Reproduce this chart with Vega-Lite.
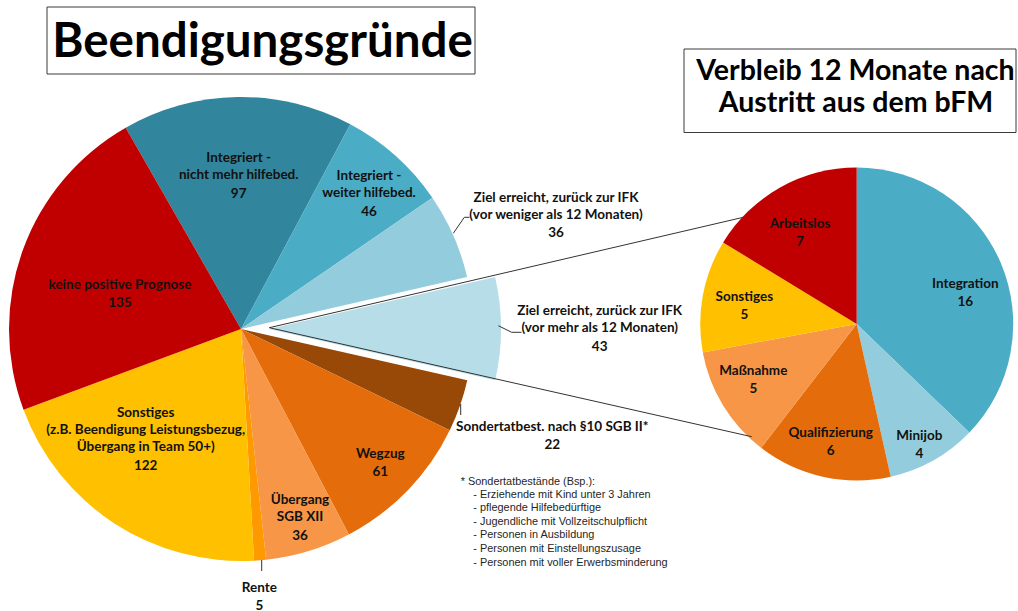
{
  "$schema": "https://vega.github.io/schema/vega-lite/v6.json",
  "width": 1018,
  "height": 611,
  "autosize": {"type": "none"},
  "padding": 0,
  "background": "#ffffff",
  "config": {"view": {"stroke": null}},
  "datasets": {
    "main": [
      {"key": "INT1", "name": "Integriert -\nnicht mehr hilfebed.", "value": 97, "ord": 1, "lx": 238.7, "ly": 184.5},
      {"key": "INT2", "name": "Integriert -\nweiter hilfebed.", "value": 46, "ord": 2, "lx": 369, "ly": 202.5},
      {"key": "Z36", "name": "Ziel erreicht, zurück zur IFK\n(vor weniger als 12 Monaten)", "value": 36, "ord": 3, "lx": 556, "ly": 224},
      {"key": "Z43", "name": "Ziel erreicht, zurück zur IFK\n(vor mehr als 12 Monaten)", "value": 43, "ord": 4, "lx": 599.7, "ly": 337.5},
      {"key": "SON", "name": "Sondertatbest. nach §10 SGB II*", "value": 22, "ord": 5, "lx": 552.3, "ly": 436},
      {"key": "WEG", "name": "Wegzug", "value": 61, "ord": 6, "lx": 380.3, "ly": 463.3},
      {"key": "UEB", "name": "Übergang\nSGB XII", "value": 36, "ord": 7, "lx": 300, "ly": 526.5},
      {"key": "REN", "name": "Rente", "value": 5, "ord": 8, "lx": 259.3, "ly": 596.5},
      {"key": "SONST", "name": "Sonstiges\n(z.B. Beendigung Leistungsbezug,\nÜbergang in Team 50+)", "value": 122, "ord": 9, "lx": 145.7, "ly": 456.5},
      {"key": "KPP", "name": "keine positive Prognose", "value": 135, "ord": 10, "lx": 120, "ly": 294.3}
    ],
    "sub": [
      {"key": "S_INT", "name": "Integration", "value": 16, "ord": 1, "lx": 965.3, "ly": 293.3},
      {"key": "S_MINI", "name": "Minijob", "value": 4, "ord": 2, "lx": 919.3, "ly": 445},
      {"key": "S_QUAL", "name": "Qualifizierung", "value": 6, "ord": 3, "lx": 830.7, "ly": 441.6},
      {"key": "S_MASS", "name": "Maßnahme", "value": 5, "ord": 4, "lx": 753.3, "ly": 380},
      {"key": "S_SONST", "name": "Sonstiges", "value": 5, "ord": 5, "lx": 744.3, "ly": 306},
      {"key": "S_ARB", "name": "Arbeitslos", "value": 7, "ord": 6, "lx": 800, "ly": 233.3}
    ],
    "boxes": [
      {"x": 47, "x2": 475, "y": 7, "y2": 74},
      {"x": 684, "x2": 1016, "y": 49, "y2": 132.5}
    ],
    "lines": [
      {"x": 269.3, "y": 327.7, "x2": 743.3, "y2": 217.3},
      {"x": 269.3, "y": 327.7, "x2": 751.7, "y2": 436.7},
      {"x": 453.3, "y": 233.3, "x2": 464.3, "y2": 217.3},
      {"x": 464.3, "y": 217.3, "x2": 469.5, "y2": 217.3},
      {"x": 498.3, "y": 325.7, "x2": 511.7, "y2": 332.3},
      {"x": 511.7, "y": 332.3, "x2": 521.5, "y2": 332.3},
      {"x": 460.7, "y": 404, "x2": 460.7, "y2": 415},
      {"x": 261.7, "y": 560, "x2": 261.7, "y2": 571}
    ],
    "footnote": [
      {"text": "* Sondertatbestände (Bsp.):", "x": 460.7, "y": 481.7},
      {"text": "- Erziehende mit Kind unter 3 Jahren", "x": 473.3, "y": 494.5},
      {"text": "- pflegende Hilfebedürftige", "x": 473.3, "y": 508.2},
      {"text": "- Jugendliche mit Vollzeitschulpflicht", "x": 473.3, "y": 521.7},
      {"text": "- Personen in Ausbildung", "x": 473.3, "y": 535.2},
      {"text": "- Personen mit Einstellungszusage", "x": 473.3, "y": 549.2},
      {"text": "- Personen mit voller Erwerbsminderung", "x": 473.3, "y": 562.6}
    ]
  },
  "resolve": {"scale": {"theta": "independent"}},
  "layer": [
    {
      "data": {"name": "boxes"},
      "mark": {"type": "rect", "fill": "#ffffff", "stroke": "#3a3a3a", "strokeWidth": 1},
      "encoding": {
        "x": {"field": "x", "type": "quantitative", "scale": {"domain": [0, 1018], "nice": false, "zero": false}, "axis": null},
        "x2": {"field": "x2"},
        "y": {"field": "y", "type": "quantitative", "scale": {"domain": [0, 611], "nice": false, "zero": false, "reverse": true}, "axis": null},
        "y2": {"field": "y2"}
      }
    },
    {
      "data": {"values": [{"text": "Beendigungsgründe", "x": 262.5, "y": 56.7}]},
      "mark": {"type": "text", "font": "Lato", "fontWeight": "bold", "fontSize": 47.5, "align": "center", "baseline": "alphabetic", "color": "#000000"},
      "encoding": {
        "x": {"field": "x", "type": "quantitative", "scale": {"domain": [0, 1018], "nice": false, "zero": false}, "axis": null},
        "y": {"field": "y", "type": "quantitative", "scale": {"domain": [0, 611], "nice": false, "zero": false, "reverse": true}, "axis": null},
        "text": {"field": "text"}
      }
    },
    {
      "data": {"values": [{"text": "Verbleib 12 Monate nach", "x": 855.5, "y": 80}, {"text": "Austritt aus dem bFM", "x": 856, "y": 111.5}]},
      "mark": {"type": "text", "font": "Lato", "fontWeight": "bold", "fontSize": 28.5, "align": "center", "baseline": "alphabetic", "color": "#000000"},
      "encoding": {
        "x": {"field": "x", "type": "quantitative", "scale": {"domain": [0, 1018], "nice": false, "zero": false}, "axis": null},
        "y": {"field": "y", "type": "quantitative", "scale": {"domain": [0, 611], "nice": false, "zero": false, "reverse": true}, "axis": null},
        "text": {"field": "text"}
      }
    },
    {
      "data": {"name": "main"},
      "transform": [{"stack": "value", "groupby": [], "sort": [{"field": "ord", "order": "ascending"}], "as": ["a0", "a1"]}],
      "layer": [
        {
          "transform": [{"filter": "datum.key !== 'Z43'"}],
          "mark": {"type": "arc", "outerRadius": 232},
          "encoding": {
            "x": {"datum": 241, "type": "quantitative", "stack": false, "scale": {"domain": [0, 1018], "nice": false, "zero": false}, "axis": null},
            "y": {"datum": 329, "type": "quantitative", "scale": {"domain": [0, 611], "nice": false, "zero": false, "reverse": true}, "axis": null},
            "theta": {"field": "a1", "type": "quantitative", "scale": {"zero": true, "range": [-0.5201, 5.7631]}},
            "theta2": {"field": "a0"},
            "color": {"field": "key", "type": "nominal", "legend": null, "scale": {"domain": ["INT1", "INT2", "Z36", "Z43", "SON", "WEG", "UEB", "REN", "SONST", "KPP", "S_INT", "S_MINI", "S_QUAL", "S_MASS", "S_SONST", "S_ARB"], "range": ["#31859C", "#4BACC6", "#93CDDD", "#B7DEE8", "#984807", "#E46C0A", "#F79646", "#FF9900", "#FFC000", "#C00000", "#4BACC6", "#93CDDD", "#E46C0A", "#F79646", "#FFC000", "#C00000"]}}
          }
        },
        {
          "transform": [{"filter": "datum.key === 'Z43'"}],
          "mark": {"type": "arc", "outerRadius": 232},
          "encoding": {
            "x": {"datum": 269, "type": "quantitative", "stack": false, "scale": {"domain": [0, 1018], "nice": false, "zero": false}, "axis": null},
            "y": {"datum": 329, "type": "quantitative", "scale": {"domain": [0, 611], "nice": false, "zero": false, "reverse": true}, "axis": null},
            "theta": {"field": "a1", "type": "quantitative", "scale": {"zero": true, "range": [-0.5201, 5.7631]}},
            "theta2": {"field": "a0"},
            "color": {"field": "key", "type": "nominal", "legend": null}
          }
        }
      ]
    },
    {
      "data": {"name": "sub"},
      "transform": [{"stack": "value", "groupby": [], "sort": [{"field": "ord", "order": "ascending"}], "as": ["a0", "a1"]}],
      "mark": {"type": "arc", "outerRadius": 156.5},
      "encoding": {
        "x": {"datum": 856.7, "type": "quantitative", "stack": false, "scale": {"domain": [0, 1018], "nice": false, "zero": false}, "axis": null},
        "y": {"datum": 324, "type": "quantitative", "scale": {"domain": [0, 611], "nice": false, "zero": false, "reverse": true}, "axis": null},
        "theta": {"field": "a1", "type": "quantitative", "scale": {"zero": true, "range": [0, 6.2832]}},
        "theta2": {"field": "a0"},
        "color": {"field": "key", "type": "nominal", "legend": null}
      }
    },
    {
      "data": {"name": "lines"},
      "mark": {"type": "rule", "color": "#333333", "strokeWidth": 1},
      "encoding": {
        "x": {"field": "x", "type": "quantitative", "scale": {"domain": [0, 1018], "nice": false, "zero": false}, "axis": null},
        "x2": {"field": "x2"},
        "y": {"field": "y", "type": "quantitative", "scale": {"domain": [0, 611], "nice": false, "zero": false, "reverse": true}, "axis": null},
        "y2": {"field": "y2"}
      }
    },
    {
      "data": {"name": "main"},
      "transform": [{"filter": "length(split(datum.name, '\\n')) === 1"}],
      "mark": {"type": "text", "font": "Lato", "fontWeight": "bold", "fontSize": 13.5, "lineHeight": 17.2, "lineBreak": "\n", "align": "center", "baseline": "line-bottom", "color": "#111111"},
      "encoding": {
        "x": {"field": "lx", "type": "quantitative", "scale": {"domain": [0, 1018], "nice": false, "zero": false}, "axis": null},
        "y": {"field": "ly", "type": "quantitative", "scale": {"domain": [0, 611], "nice": false, "zero": false, "reverse": true}, "axis": null},
        "text": {"field": "name"}
      }
    },
    {
      "data": {"name": "main"},
      "transform": [{"filter": "length(split(datum.name, '\\n')) === 2"}],
      "mark": {"type": "text", "font": "Lato", "fontWeight": "bold", "fontSize": 13.5, "lineHeight": 17.2, "lineBreak": "\n", "align": "center", "baseline": "line-bottom", "dy": -17.2, "color": "#111111"},
      "encoding": {
        "x": {"field": "lx", "type": "quantitative", "scale": {"domain": [0, 1018], "nice": false, "zero": false}, "axis": null},
        "y": {"field": "ly", "type": "quantitative", "scale": {"domain": [0, 611], "nice": false, "zero": false, "reverse": true}, "axis": null},
        "text": {"field": "name"}
      }
    },
    {
      "data": {"name": "main"},
      "transform": [{"filter": "length(split(datum.name, '\\n')) === 3"}],
      "mark": {"type": "text", "font": "Lato", "fontWeight": "bold", "fontSize": 13.5, "lineHeight": 17.2, "lineBreak": "\n", "align": "center", "baseline": "line-bottom", "dy": -34.4, "color": "#111111"},
      "encoding": {
        "x": {"field": "lx", "type": "quantitative", "scale": {"domain": [0, 1018], "nice": false, "zero": false}, "axis": null},
        "y": {"field": "ly", "type": "quantitative", "scale": {"domain": [0, 611], "nice": false, "zero": false, "reverse": true}, "axis": null},
        "text": {"field": "name"}
      }
    },
    {
      "data": {"name": "main"},
      "mark": {"type": "text", "font": "Lato", "fontWeight": "bold", "fontSize": 13.5, "lineHeight": 17.2, "align": "center", "baseline": "line-top", "color": "#111111"},
      "encoding": {
        "x": {"field": "lx", "type": "quantitative", "scale": {"domain": [0, 1018], "nice": false, "zero": false}, "axis": null},
        "y": {"field": "ly", "type": "quantitative", "scale": {"domain": [0, 611], "nice": false, "zero": false, "reverse": true}, "axis": null},
        "text": {"field": "value", "type": "quantitative", "format": "d"}
      }
    },
    {
      "data": {"name": "sub"},
      "mark": {"type": "text", "font": "Lato", "fontWeight": "bold", "fontSize": 13.5, "lineHeight": 17.2, "align": "center", "baseline": "line-bottom", "color": "#111111"},
      "encoding": {
        "x": {"field": "lx", "type": "quantitative", "scale": {"domain": [0, 1018], "nice": false, "zero": false}, "axis": null},
        "y": {"field": "ly", "type": "quantitative", "scale": {"domain": [0, 611], "nice": false, "zero": false, "reverse": true}, "axis": null},
        "text": {"field": "name"}
      }
    },
    {
      "data": {"name": "sub"},
      "mark": {"type": "text", "font": "Lato", "fontWeight": "bold", "fontSize": 13.5, "lineHeight": 17.2, "align": "center", "baseline": "line-top", "color": "#111111"},
      "encoding": {
        "x": {"field": "lx", "type": "quantitative", "scale": {"domain": [0, 1018], "nice": false, "zero": false}, "axis": null},
        "y": {"field": "ly", "type": "quantitative", "scale": {"domain": [0, 611], "nice": false, "zero": false, "reverse": true}, "axis": null},
        "text": {"field": "value", "type": "quantitative", "format": "d"}
      }
    },
    {
      "data": {"name": "footnote"},
      "mark": {"type": "text", "font": "Liberation Sans", "fontSize": 10.9, "align": "left", "baseline": "middle", "color": "#262626"},
      "encoding": {
        "x": {"field": "x", "type": "quantitative", "scale": {"domain": [0, 1018], "nice": false, "zero": false}, "axis": null},
        "y": {"field": "y", "type": "quantitative", "scale": {"domain": [0, 611], "nice": false, "zero": false, "reverse": true}, "axis": null},
        "text": {"field": "text"}
      }
    }
  ]
}
